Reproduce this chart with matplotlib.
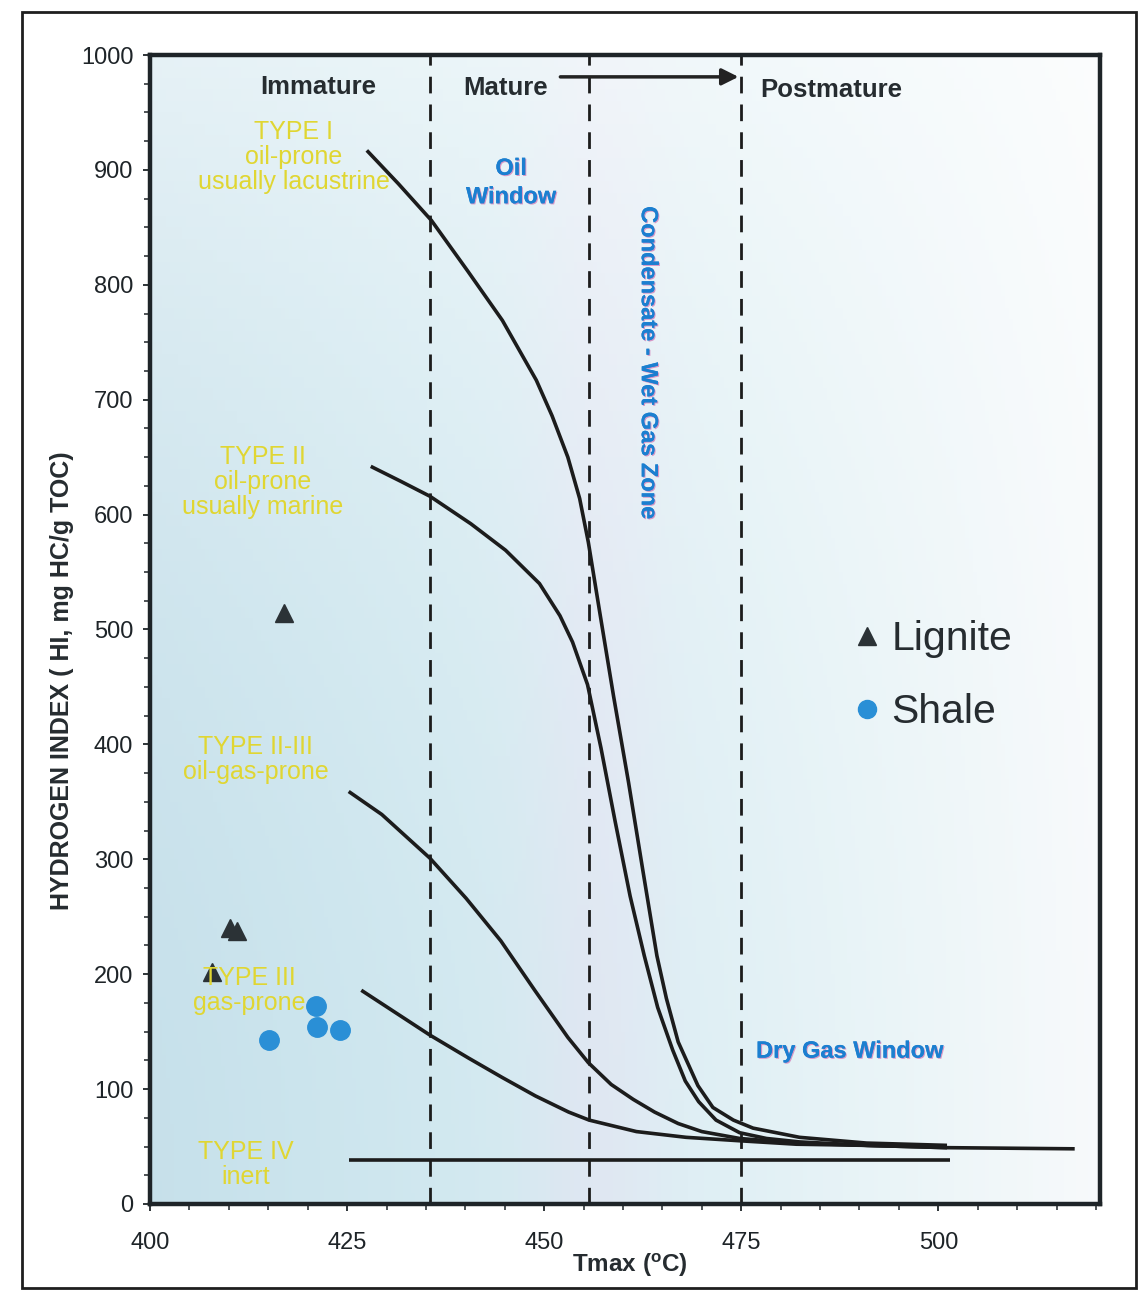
import matplotlib
matplotlib.use("Agg")
import matplotlib.pyplot as plt
import matplotlib.patheffects as pe
from matplotlib.lines import Line2D
from matplotlib.patches import Rectangle
import numpy as np

plt.rcParams['font.family'] = ['Liberation Sans', 'DejaVu Sans']

# kerogen type curves (Tmax degC, HI)
type1_x = [427.5, 431.5, 435.7, 440.3, 444.7, 449.0, 451.0, 453.0, 454.5, 455.6, 457.0, 458.8, 460.7,
           462.5, 464.3, 465.5, 467.0, 469.5, 471.4, 474.0, 476.5, 482.4, 490.9, 501.1]
type1_y = [917, 888, 856, 812, 769, 717, 686, 650, 614, 576, 517, 442, 367,
           291, 216, 179, 141, 103, 84, 73, 66, 58, 53, 51]
type2_x = [428.0, 431.8, 435.5, 440.7, 445.1, 449.4, 452.0, 453.6, 455.5, 457.2, 459.0, 460.9, 462.7,
           464.4, 466.3, 467.9, 469.6, 471.8, 474.8, 478.2, 482.4, 491.0, 501.1]
type2_y = [642, 629, 616, 592, 569, 540, 512, 489, 452, 397, 333, 268, 216,
           171, 134, 107, 89, 73, 62, 57, 54, 51, 50]
type23_x = [425.2, 429.4, 435.5, 440.1, 444.5, 448.8, 453.0, 455.6, 458.5, 461.3, 464.0, 467.0, 470.0,
            474.8, 482.0, 490.9, 501.1, 517.3]
type23_y = [359, 339, 301, 266, 229, 186, 145, 123, 104, 91, 80, 70, 63,
            57, 53, 51, 49, 48]
type3_x = [426.8, 435.5, 440.4, 444.7, 448.9, 453.1, 455.7, 461.7, 468.0, 474.8, 482.0, 490.9, 501.1]
type3_y = [186, 147, 127, 110, 94, 80, 73, 63, 58, 55, 52, 51, 49]
type4_x = [425.2, 501.5]
type4_y = [38, 38]

# maturity boundaries (Tmax)
zone_lines = [435.5, 455.7, 475.0]

# samples
lignite_x = [417.0, 410.2, 411.0, 407.9]
lignite_y = [514, 240, 238, 202]
shale_x = [421.1, 421.2, 424.1, 415.1]
shale_y = [172, 154, 151, 143]

yellow = '#e0d632'
blue = '#1b7fd0'
dark = '#262c30'

fig = plt.figure(figsize=(11.41, 12.95), dpi=100)
ax = fig.add_axes([0.1315, 0.0703, 0.8325, 0.8872])

xmin, xmax = 400, 520.5
ax.set_xlim(xmin, xmax)
ax.set_ylim(0, 1000)

# background wash: blue on the left fading to white on the right
nx, ny = 240, 100
gx = np.linspace(0, 1, nx)
gy = np.linspace(0, 1, ny)[:, None, None]
r = 0.78 + 0.19 * gx ** 1.3
g = 0.88 + 0.10 * gx
b = 0.92 + 0.065 * gx
band = np.exp(-((gx - 0.47) / 0.07) ** 2) * 0.04
r = r + band * 0.6
g = g - band * 0.5
img = np.dstack([np.broadcast_to(r, (ny, nx)), np.broadcast_to(g, (ny, nx)), np.broadcast_to(b, (ny, nx))])
img = img + (1 - img) * (gy ** 2 * 0.55)
img = np.clip(img, 0, 1)
ax.imshow(img, extent=[xmin, xmax, 0, 1000], origin='lower', aspect='auto', zorder=0)

for xs, ys in [(type1_x, type1_y), (type2_x, type2_y), (type23_x, type23_y),
               (type3_x, type3_y), (type4_x, type4_y)]:
    ax.plot(xs, ys, color='#1c1c1c', lw=2.6, solid_capstyle='butt', solid_joinstyle='round', zorder=3)

for xv in zone_lines:
    ax.axvline(xv, color='#1c1c1c', lw=2.0, dashes=(6, 4), zorder=2)

ax.annotate('', xy=(475.0, 981), xytext=(451.7, 981),
            arrowprops=dict(arrowstyle='-|>', color='#222', lw=2.5, mutation_scale=25), zorder=4)

ax.plot(lignite_x, lignite_y, ls='none', marker='^', ms=13, color='#2b3236', zorder=4)
ax.plot(shale_x, shale_y, ls='none', marker='o', ms=14, color='#2a8fd6', zorder=4)

# zone headings
ax.text(421.3, 972, 'Immature', ha='center', va='center', fontsize=18.5, fontweight='bold', color=dark)
ax.text(445.1, 971, 'Mature', ha='center', va='center', fontsize=18.5, fontweight='bold', color=dark)
ax.text(486.4, 970, 'Postmature', ha='center', va='center', fontsize=18.5, fontweight='bold', color=dark)

shadow = [pe.withSimplePatchShadow(offset=(0.8, -0.8), shadow_rgbFace='#d070b0', alpha=0.7), pe.Normal()]
ax.text(445.8, 889, 'Oil\nWindow', ha='center', va='center', fontsize=17, fontweight='bold',
        color=blue, linespacing=1.3, path_effects=shadow)
ax.text(463.2, 732, 'Condensate - Wet Gas Zone', ha='center', va='center', fontsize=17,
        fontweight='bold', color=blue, rotation=270, path_effects=shadow)
ax.text(488.8, 133, 'Dry Gas Window', ha='center', va='center', fontsize=17, fontweight='bold',
        color=blue, path_effects=shadow)

# kerogen type labels
type_labels = ['TYPE I\noil-prone\nusually lacustrine', 'TYPE II\noil-prone\nusually marine',
               'TYPE II-III\noil-gas-prone', 'TYPE III\ngas-prone', 'TYPE IV\ninert']
type_pos = [(418.2, 911), (414.3, 628), (413.4, 387), (412.6, 186), (412.1, 34)]
for lab, (tx, ty) in zip(type_labels, type_pos):
    ax.text(tx, ty, lab, ha='center', va='center', fontsize=18, color=yellow,
            linespacing=1.05, zorder=5)

handles = [Line2D([], [], ls='none', marker='^', ms=13, color='#2b3236'),
           Line2D([], [], ls='none', marker='o', ms=13, color='#2a8fd6')]
ax.legend(handles, ['Lignite', 'Shale'], loc='center left', bbox_to_anchor=(0.703, 0.46),
          frameon=False, fontsize=29.5, handlelength=0.6, handletextpad=0.3, labelspacing=0.85,
          labelcolor=dark)

for s in ax.spines.values():
    s.set_linewidth(3.2)
    s.set_color('#1e2428')

ax.set_xticks([400, 425, 450, 475, 500])
ax.set_xticks(np.arange(400, 521, 5), minor=True)
ax.set_yticks(np.arange(0, 1001, 100))
ax.set_yticks(np.arange(0, 1001, 25), minor=True)
ax.tick_params(axis='both', which='major', direction='out', length=5, width=1.3, labelsize=17, colors='#1e2428')
ax.tick_params(axis='both', which='minor', direction='out', length=4, width=1.1, colors='#1e2428')
ax.tick_params(axis='x', which='major', pad=15)
ax.tick_params(axis='y', which='major', pad=7)

fig.text(62 / 1141, 1 - 681 / 1295, 'HYDROGEN INDEX ( HI, mg HC/g TOC)', rotation=90,
         ha='center', va='center', fontsize=18, fontweight='bold', color=dark)
fig.text(630 / 1141, 1 - 1265 / 1295, 'Tmax ($^{\\mathregular{o}}$C)', ha='center', va='center',
         fontsize=17.5, fontweight='bold', color=dark)

fig.patches.append(Rectangle((22 / 1141, 1 - 1288 / 1295), 1114 / 1141, 1276 / 1295,
                             transform=fig.transFigure, fill=False, lw=2, ec='#1e1e1e'))

fig.savefig('out.png', dpi=100, facecolor='white')
